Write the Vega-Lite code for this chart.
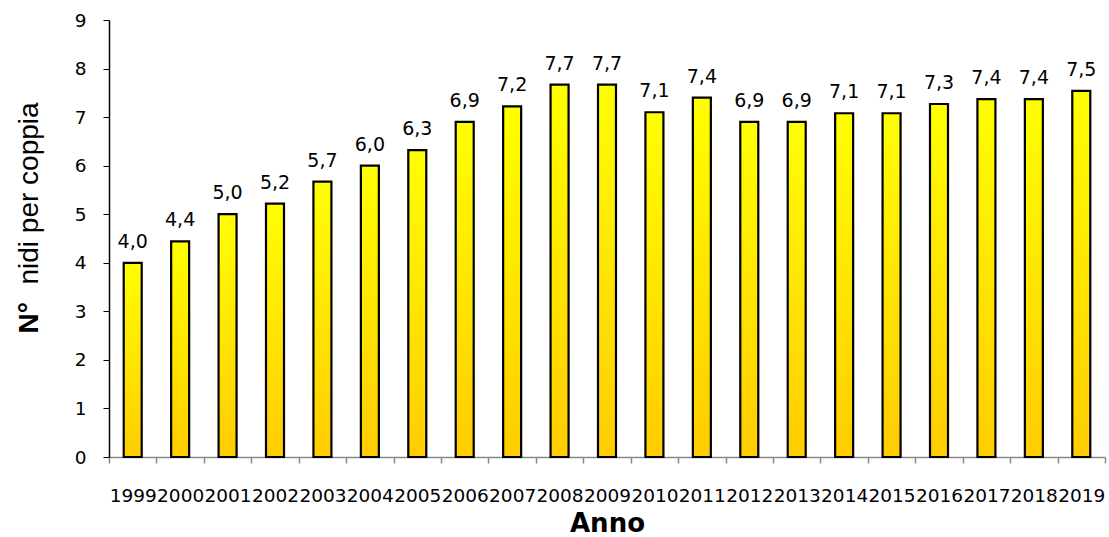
{
  "$schema": "https://vega.github.io/schema/vega-lite/v6.json",
  "autosize": {"type": "none"},
  "width": 996,
  "height": 437,
  "padding": {"left": 109, "top": 20, "right": 4, "bottom": 80},
  "background": "white",
  "config": {
    "locale": {
      "number": {"decimal": ",", "thousands": ".", "grouping": [3], "currency": ["", " €"]}
    },
    "view": {"stroke": null},
    "axis": {"grid": false}
  },
  "data": {
    "values": [
      {"anno": "1999", "nidi": 4.0},
      {"anno": "2000", "nidi": 4.44},
      {"anno": "2001", "nidi": 5.0},
      {"anno": "2002", "nidi": 5.22},
      {"anno": "2003", "nidi": 5.67},
      {"anno": "2004", "nidi": 6.0},
      {"anno": "2005", "nidi": 6.32},
      {"anno": "2006", "nidi": 6.9},
      {"anno": "2007", "nidi": 7.22},
      {"anno": "2008", "nidi": 7.67},
      {"anno": "2009", "nidi": 7.67},
      {"anno": "2010", "nidi": 7.1},
      {"anno": "2011", "nidi": 7.4},
      {"anno": "2012", "nidi": 6.9},
      {"anno": "2013", "nidi": 6.9},
      {"anno": "2014", "nidi": 7.08},
      {"anno": "2015", "nidi": 7.08},
      {"anno": "2016", "nidi": 7.27},
      {"anno": "2017", "nidi": 7.37},
      {"anno": "2018", "nidi": 7.37},
      {"anno": "2019", "nidi": 7.54}
    ]
  },
  "encoding": {
    "x": {
      "field": "anno",
      "type": "ordinal",
      "sort": null,
      "scale": {"paddingInner": 0, "paddingOuter": 0},
      "axis": {
        "title": "Anno",
        "titleFont": "DejaVu Sans",
        "titleFontWeight": "bold",
        "titleFontSize": 26,
        "titleColor": "#000000",
        "titleBaseline": "alphabetic",
        "titleY": 74,
        "labelAngle": 0,
        "labelOverlap": false,
        "labelFont": "DejaVu Sans",
        "labelFontSize": 18.5,
        "labelColor": "#000000",
        "labelPadding": 23,
        "labelBaseline": "top",
        "tickBand": "extent",
        "tickSize": 6,
        "tickColor": "#888888",
        "tickWidth": 1.5,
        "domainColor": "#888888",
        "domainWidth": 1.5
      }
    },
    "y": {
      "field": "nidi",
      "type": "quantitative",
      "scale": {"domain": [0, 9], "nice": false},
      "axis": {
        "orient": "left",
        "values": [0, 1, 2, 3, 4, 5, 6, 7, 8, 9],
        "format": "d",
        "title": "nidi per coppia",
        "titleFont": "Liberation Sans",
        "titleFontWeight": "normal",
        "titleFontSize": 28,
        "titleColor": "#000000",
        "titleAngle": 270,
        "titleAlign": "left",
        "titleBaseline": "alphabetic",
        "titleX": -72,
        "titleY": 264,
        "labelFont": "DejaVu Sans",
        "labelFontSize": 18.5,
        "labelColor": "#000000",
        "labelPadding": 17,
        "tickSize": 6,
        "tickColor": "#000000",
        "domainColor": "#000000",
        "domainWidth": 1.5
      }
    }
  },
  "layer": [
    {
      "mark": {
        "type": "bar",
        "width": 18,
        "stroke": "#000000",
        "strokeWidth": 2.2,
        "color": {
          "gradient": "linear",
          "x1": 0, "y1": 0, "x2": 0, "y2": 1,
          "stops": [
            {"offset": 0, "color": "#FFFF00"},
            {"offset": 1, "color": "#FFCC00"}
          ]
        }
      }
    },
    {
      "mark": {
        "type": "text",
        "baseline": "alphabetic",
        "dy": -15,
        "font": "DejaVu Sans",
        "fontSize": 19,
        "color": "#000000"
      },
      "encoding": {
        "text": {"field": "nidi", "type": "quantitative", "format": ".1f"},
        "y": {
          "field": "nidi",
          "type": "quantitative",
          "axis": {
            "orient": "left",
            "labels": false,
            "ticks": false,
            "domain": false,
            "title": "N°",
            "titleFont": "Liberation Sans",
            "titleFontWeight": "bold",
            "titleFontSize": 28,
            "titleColor": "#000000",
            "titleAngle": 270,
            "titleAlign": "left",
            "titleBaseline": "alphabetic",
            "titleX": -72,
            "titleY": 313
          }
        }
      }
    }
  ],
  "resolve": {"axis": {"y": "independent"}}
}
